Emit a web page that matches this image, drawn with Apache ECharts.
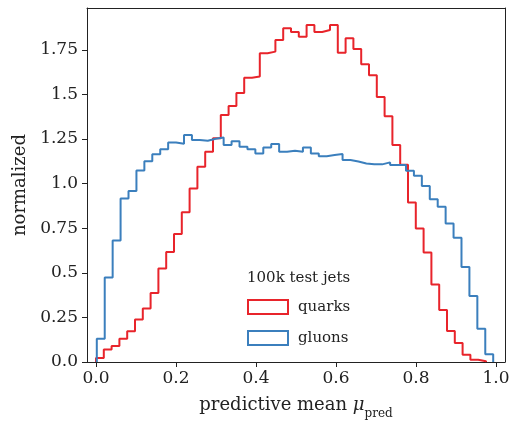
<!DOCTYPE html>
<html>
<head>
<meta charset="utf-8">
<script src="https://cdn.jsdelivr.net/npm/echarts@6/dist/echarts.min.js"></script>
<style>
html,body{margin:0;padding:0;background:#fff;}
#chart{width:513px;height:421px;}
</style>
</head>
<body>
<div id="chart"></div>
<script>
const binCount = 50;
const quarkRange = [0.0, 0.975];
const gluonRange = [0.002, 0.993];
const quarks = [0.022,0.070,0.090,0.131,0.172,0.238,0.300,0.387,0.524,0.616,
  0.717,0.840,0.973,1.094,1.178,1.254,1.384,1.435,1.508,1.594,
  1.600,1.731,1.740,1.805,1.871,1.850,1.824,1.889,1.850,1.861,
  1.889,1.734,1.815,1.755,1.669,1.607,1.485,1.377,1.216,1.106,
  0.894,0.749,0.614,0.434,0.292,0.174,0.107,0.041,0.013,0.004];
const gluons = [0.131,0.474,0.681,0.917,0.958,1.074,1.126,1.164,1.192,1.231,
  1.223,1.272,1.244,1.240,1.251,1.258,1.216,1.237,1.207,1.192,
  1.169,1.203,1.222,1.178,1.184,1.178,1.203,1.169,1.154,1.160,
  1.166,1.132,1.124,1.113,1.108,1.108,1.119,1.104,1.104,1.072,
  1.044,0.986,0.913,0.870,0.777,0.696,0.533,0.370,0.187,0.043];
const xTicks = [0.0,0.2,0.4,0.6,0.8,1.0];
const xTickLabels = ['0.0','0.2','0.4','0.6','0.8','1.0'];
const yTicks = [0,0.25,0.5,0.75,1.0,1.25,1.5,1.75];
const yTickLabels = ['0.0','0.25','0.5','0.75','1.0','1.25','1.5','1.75'];
const seriesNames = ['quarks','gluons'];
const legendTitle = '100k test jets';

const FONT = 'DejaVu Serif';
const RED = '#e8242b';
const BLUE = '#3b7fbd';
const AX = '#222';

function stepPath(vals, range){
  const w = (range[1]-range[0])/binCount;
  const pts = [[range[0],0]];
  for(let i=0;i<vals.length;i++){
    const a = range[0]+i*w, b = range[0]+(i+1)*w;
    pts.push([a, vals[i]]);
    pts.push([b, vals[i]]);
  }
  pts.push([range[0]+vals.length*w, 0]);
  return pts;
}
function lab(ticks, labels){
  return function(v){
    for(let i=0;i<ticks.length;i++){ if(Math.abs(ticks[i]-v)<1e-9) return labels[i]; }
    return '';
  };
}
const XMIN = -0.0225, XMAX = 1.0225, YMIN = 0, YMAX = 1.9845;

const chart = echarts.init(document.getElementById('chart'), null, {renderer:'canvas'});
chart.setOption({
  animation:false,
  backgroundColor:'#fff',
  textStyle:{fontFamily:FONT},
  grid:{left:87,right:8,top:8,bottom:59,containLabel:false,outerBoundsMode:'none'},
  title:{text:legendTitle,left:242,top:266,textStyle:{fontFamily:FONT,fontSize:15,fontWeight:'normal',color:AX}},
  legend:{
    orient:'vertical',left:242,top:294,itemWidth:40,itemHeight:14,itemGap:15,
    textStyle:{fontFamily:FONT,fontSize:15,color:AX,padding:[0,0,0,5]},
    data:[
      {name:seriesNames[0],icon:'rect',itemStyle:{color:'rgba(255,255,255,0)',borderColor:RED,borderWidth:2}},
      {name:seriesNames[1],icon:'rect',itemStyle:{color:'rgba(255,255,255,0)',borderColor:BLUE,borderWidth:2}}
    ]
  },
  xAxis:[{
    type:'value',min:XMIN,max:XMAX,position:'bottom',
    name:'{t|predictive mean }{mu|μ}{sub|pred}',
    nameLocation:'middle',nameGap:34,
    nameTextStyle:{rich:{
      t:{fontFamily:FONT,fontSize:18,color:AX},
      mu:{fontFamily:FONT,fontSize:18,fontStyle:'italic',color:AX},
      sub:{fontFamily:FONT,fontSize:12,color:AX,verticalAlign:'bottom',padding:[0,0,-6,0]}
    }},
    axisLine:{show:true,onZero:false,lineStyle:{color:AX,width:1}},
    axisTick:{show:true,length:5,inside:false,customValues:xTicks,lineStyle:{color:AX}},
    axisLabel:{customValues:xTicks,formatter:lab(xTicks,xTickLabels),fontFamily:FONT,fontSize:17,color:AX,margin:8},
    splitLine:{show:false}
  },{
    type:'value',min:XMIN,max:XMAX,position:'top',
    axisLine:{show:true,onZero:false,lineStyle:{color:AX,width:1}},
    axisTick:{show:false},axisLabel:{show:false},splitLine:{show:false}
  }],
  yAxis:[{
    type:'value',min:YMIN,max:YMAX,position:'left',
    name:'normalized',nameLocation:'middle',nameGap:56,
    nameTextStyle:{fontFamily:FONT,fontSize:18,color:AX},
    axisLine:{show:true,onZero:false,lineStyle:{color:AX,width:1}},
    axisTick:{show:true,length:5,inside:false,customValues:yTicks,lineStyle:{color:AX}},
    axisLabel:{customValues:yTicks,formatter:lab(yTicks,yTickLabels),fontFamily:FONT,fontSize:17,color:AX,margin:9},
    splitLine:{show:false}
  },{
    type:'value',min:YMIN,max:YMAX,position:'right',
    axisLine:{show:true,onZero:false,lineStyle:{color:AX,width:1}},
    axisTick:{show:false},axisLabel:{show:false},splitLine:{show:false}
  }],
  series:[
    {name:seriesNames[0],type:'line',data:stepPath(quarks,quarkRange),symbol:'none',showSymbol:false,
     lineStyle:{color:RED,width:2},itemStyle:{color:RED},z:2},
    {name:seriesNames[1],type:'line',data:stepPath(gluons,gluonRange),symbol:'none',showSymbol:false,
     lineStyle:{color:BLUE,width:2},itemStyle:{color:BLUE},z:3}
  ]
});
</script>
</body>
</html>
